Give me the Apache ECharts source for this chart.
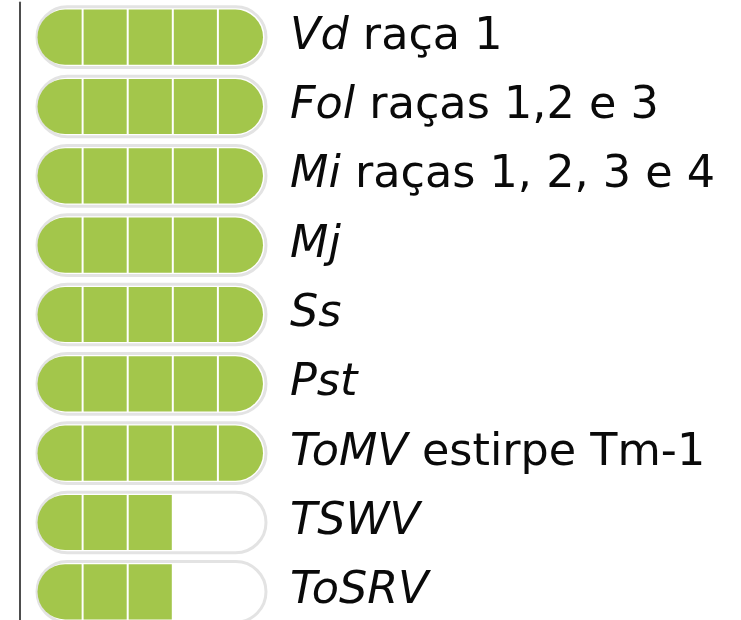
<!DOCTYPE html>
<html>
<head>
<meta charset="utf-8">
<script src="https://cdn.jsdelivr.net/npm/echarts@6/dist/echarts.min.js"></script>
<style>
  html, body { margin: 0; padding: 0; background: #fff; }
  #main { width: 741px; height: 620px; }
</style>
</head>
<body>
<div id="main"></div>
<script>
// patógeno (itálico) e complemento (normal)
var pathogens = ['Vd', 'Fol', 'Mi', 'Mj', 'Ss', 'Pst', 'ToMV', 'TSWV', 'ToSRV'];
var strains = ['raça 1', 'raças 1,2 e 3', 'raças 1, 2, 3 e 4', '', '', '', 'estirpe Tm-1', '', ''];
// nível de resistência (segmentos preenchidos de 5)
var filled = [5, 5, 5, 5, 5, 5, 5, 3, 3];
var SEGMENTS = 5;

var green = '#a3c64b';
var ringColor = '#e3e3e3';

var myChart = echarts.init(document.getElementById('main'));

var seriesData = [];
for (var i = 0; i < pathogens.length; i++) {
  seriesData.push([i, filled[i]]);
}

function renderPill(params, api) {
  var row = api.value(0);
  var count = api.value(1);
  var start = api.coord([0, row]);
  var end = api.coord([SEGMENTS, row]);
  var band = api.size([0, 1])[1];
  var h = band * 0.795; // altura do verde
  var r = h / 2;
  var segW = (end[0] - start[0]) / SEGMENTS;
  var cy = start[1];
  var children = [];

  // contorno cinza da pílula
  var outerH = h + 5.5;
  children.push({
    type: 'rect',
    shape: {
      x: start[0] - 0.5,
      y: cy - outerH / 2,
      width: end[0] - start[0] + 3.5,
      height: outerH,
      r: outerH / 2
    },
    style: { fill: '#fff', stroke: ringColor, lineWidth: 3 }
  });

  // segmentos verdes
  for (var s = 0; s < count; s++) {
    var x0 = start[0] + s * segW;
    var rr = [0, 0, 0, 0];
    if (s === 0) rr = [r, 0, 0, r];
    if (s === SEGMENTS - 1) rr = [0, r, r, 0];
    children.push({
      type: 'rect',
      shape: {
        x: x0 + (s === 0 ? 0 : 1),
        y: cy - h / 2,
        width: segW - (s === 0 ? 0 : 1) - (s === SEGMENTS - 1 ? 0 : 1),
        height: h,
        r: rr
      },
      style: { fill: green }
    });
  }
  return { type: 'group', children: children };
}

var option = {
  backgroundColor: '#fff',
  animation: false,
  grid: {
    left: 37.5,
    top: 2.5,
    width: 225.5,
    height: 624,
    outerBoundsMode: 'none'
  },
  xAxis: {
    type: 'value',
    min: 0,
    max: SEGMENTS,
    show: false
  },
  yAxis: [
    {
      type: 'category',
      inverse: true,
      data: pathogens,
      position: 'left',
      offset: 17.5,
      axisLine: { show: true, onZero: false, lineStyle: { color: '#4d4d4d', width: 2 } },
      axisTick: { show: false },
      axisLabel: { show: false },
      splitLine: { show: false }
    },
    {
      type: 'category',
      inverse: true,
      data: pathogens,
      position: 'right',
      axisLine: { show: false, onZero: false },
      axisTick: { show: false },
      splitLine: { show: false },
      axisLabel: {
        margin: 27,
        formatter: function (value, idx) {
          var txt = '{i|' + pathogens[idx] + '}';
          if (strains[idx]) txt += '{n| ' + strains[idx] + '}';
          return txt;
        },
        rich: {
          i: { fontFamily: 'DejaVu Sans', fontSize: 44.5, fontStyle: 'italic', color: '#0a0a0a' },
          n: { fontFamily: 'DejaVu Sans', fontSize: 44.5, color: '#0a0a0a' }
        }
      }
    }
  ],
  series: [
    {
      type: 'custom',
      renderItem: renderPill,
      encode: { x: 1, y: 0 },
      data: seriesData
    }
  ]
};

myChart.setOption(option);
</script>
</body>
</html>
